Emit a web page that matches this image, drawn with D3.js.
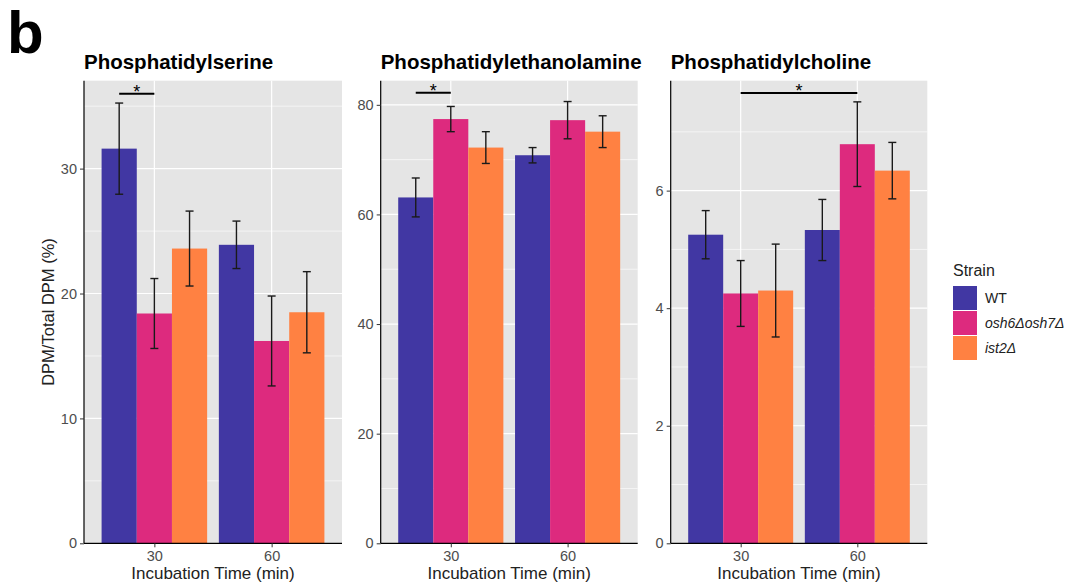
<!DOCTYPE html>
<html>
<head>
<meta charset="utf-8">
<script src="https://cdn.jsdelivr.net/npm/d3@7"></script>
<style>
  body { margin: 0; background: #fff; }
  svg { font-family: "Liberation Sans", Arial, sans-serif; display: block; }
</style>
</head>
<body>
<div id="chart"></div>
<script>
// Données
const times = ["30", "60"];
const strains = ["WT", "osh6Δosh7Δ", "ist2Δ"];
const strainColors = ["#4137a3", "#dd2a7e", "#ff8142"];
const lipids = ["Phosphatidylserine", "Phosphatidylethanolamine", "Phosphatidylcholine"];

// moyennes [temps][souche]
const psMean = [[31.6, 18.4, 23.6], [23.9, 16.2, 18.5]];
const psErr  = [[3.65, 2.8, 3.0], [1.9, 3.6, 3.25]];
const peMean = [[63.1, 77.4, 72.2], [70.8, 77.2, 75.1]];
const peErr  = [[3.55, 2.3, 2.9], [1.4, 3.4, 2.9]];
const pcMean = [[5.25, 4.25, 4.30], [5.33, 6.79, 6.34]];
const pcErr  = [[0.41, 0.56, 0.79], [0.52, 0.72, 0.48]];

const yMax = [37.04, 84.4, 7.87];
const yTicks = [[0, 10, 20, 30], [0, 20, 40, 60, 80], [0, 2, 4, 6]];
const yMinor = [[5, 15, 25, 35], [10, 30, 50, 70], [1, 3, 5, 7]];

// barres de significativité : [temps, souche] -> [temps, souche], hauteur
const sigBars = [
    { from: ["30", "WT"], to: ["30", "osh6Δosh7Δ"], y: 36.0 },
    { from: ["30", "WT"], to: ["30", "osh6Δosh7Δ"], y: 82.2 },
    { from: ["30", "osh6Δosh7Δ"], to: ["60", "osh6Δosh7Δ"], y: 7.66 }
];

const means = [psMean, peMean, pcMean];
const errs = [psErr, peErr, pcErr];

(function() {
    const W = 1067, H = 586;
    const svg = d3.select("#chart").append("svg").attr("width", W).attr("height", H);

    // lettre du panneau
    svg.append("text").attr("x", 7).attr("y", 53)
        .style("font-size", "60px").style("font-weight", "bold").text("b");

    const panels = [
        { x0: 84, x1: 342 },
        { x0: 380.7, x1: 637.7 },
        { x0: 670.7, x1: 927.3 }
    ];
    const plotTop = 80.7, plotBottom = 543.3;

    panels.forEach((p, i) => {
        const g = svg.append("g");

        const x = d3.scalePoint().domain(times).range([p.x0, p.x1]).padding(0.6);
        const step = x.step();
        const xs = d3.scaleBand().domain(strains).range([-0.45 * step, 0.45 * step]);
        const y = d3.scaleLinear().domain([0, yMax[i]]).range([plotBottom, plotTop]);
        const color = d3.scaleOrdinal().domain(strains).range(strainColors);

        // fond
        g.append("rect").attr("x", p.x0).attr("y", plotTop)
            .attr("width", p.x1 - p.x0).attr("height", plotBottom - plotTop).attr("fill", "#e5e5e5");

        // grille
        g.selectAll(".minor").data(yMinor[i]).join("line")
            .attr("x1", p.x0).attr("x2", p.x1)
            .attr("y1", d => y(d)).attr("y2", d => y(d))
            .attr("stroke", "#fff").attr("stroke-width", 0.6);
        g.selectAll(".major").data(yTicks[i]).join("line")
            .attr("x1", p.x0).attr("x2", p.x1)
            .attr("y1", d => y(d)).attr("y2", d => y(d))
            .attr("stroke", "#fff").attr("stroke-width", 1.2);
        g.selectAll(".vmajor").data(times).join("line")
            .attr("x1", d => x(d)).attr("x2", d => x(d))
            .attr("y1", plotTop).attr("y2", plotBottom)
            .attr("stroke", "#fff").attr("stroke-width", 1.2);

        // barres
        const rows = [];
        times.forEach((t, ti) => strains.forEach((s, si) => {
            rows.push({ t, s, v: means[i][ti][si], e: errs[i][ti][si] });
        }));

        g.selectAll(".bar").data(rows).join("rect")
            .attr("x", d => x(d.t) + xs(d.s))
            .attr("width", xs.bandwidth())
            .attr("y", d => y(d.v))
            .attr("height", d => y(0) - y(d.v))
            .attr("fill", d => color(d.s));

        // barres d'erreur
        const cap = 4;
        const cx = d => x(d.t) + xs(d.s) + xs.bandwidth() / 2;
        const eb = g.selectAll(".err").data(rows).join("g")
            .attr("stroke", "#1a1a1a").attr("stroke-width", 1.4);
        eb.append("line")
            .attr("x1", cx).attr("x2", cx)
            .attr("y1", d => y(d.v + d.e)).attr("y2", d => y(d.v - d.e));
        eb.append("line")
            .attr("x1", d => cx(d) - cap).attr("x2", d => cx(d) + cap)
            .attr("y1", d => y(d.v + d.e)).attr("y2", d => y(d.v + d.e));
        eb.append("line")
            .attr("x1", d => cx(d) - cap).attr("x2", d => cx(d) + cap)
            .attr("y1", d => y(d.v - d.e)).attr("y2", d => y(d.v - d.e));

        // significativité
        const sb = sigBars[i];
        const sx0 = x(sb.from[0]) + xs(sb.from[1]) + xs.bandwidth() / 2;
        const sx1 = x(sb.to[0]) + xs(sb.to[1]) + xs.bandwidth() / 2;
        g.append("line").attr("x1", sx0).attr("x2", sx1)
            .attr("y1", y(sb.y)).attr("y2", y(sb.y))
            .attr("stroke", "#000").attr("stroke-width", 2);
        g.append("text").attr("x", (sx0 + sx1) / 2).attr("y", y(sb.y) + 4)
            .attr("text-anchor", "middle").style("font-size", "18px").text("*");

        // axes
        const ya = g.append("g").attr("transform", `translate(${p.x0},0)`)
            .call(d3.axisLeft(y).tickValues(yTicks[i]).tickSize(4).tickPadding(3));
        ya.select(".domain").attr("d", `M0,${plotTop}V${plotBottom}`).attr("stroke", "#000").attr("stroke-width", 1.2);
        ya.selectAll(".tick line").attr("stroke", "#333");
        ya.selectAll(".tick text").style("font-size", "14.5px").attr("fill", "#4d4d4d")
            .style("font-family", "Liberation Sans, Arial, sans-serif");

        const xa = g.append("g").attr("transform", `translate(0,${plotBottom})`)
            .call(d3.axisBottom(x).tickSize(4).tickPadding(3));
        xa.select(".domain").attr("d", `M${p.x0},0H${p.x1}`).attr("stroke", "#000").attr("stroke-width", 1.2);
        xa.selectAll(".tick line").attr("stroke", "#333");
        xa.selectAll(".tick text").style("font-size", "14.5px").attr("fill", "#4d4d4d")
            .style("font-family", "Liberation Sans, Arial, sans-serif");

        // titres
        g.append("text").attr("x", p.x0).attr("y", 69)
            .style("font-size", "20.5px").style("font-weight", "bold").text(lipids[i]);
        g.append("text").attr("x", (p.x0 + p.x1) / 2).attr("y", 579)
            .attr("text-anchor", "middle").style("font-size", "17px").attr("fill", "#222")
            .text("Incubation Time (min)");
    });

    // titre de l'axe y
    svg.append("text")
        .attr("transform", `translate(54,${(plotTop + plotBottom) / 2}) rotate(-90)`)
        .attr("text-anchor", "middle").style("font-size", "16.5px").attr("fill", "#222")
        .text("DPM/Total DPM (%)");

    // légende
    const legend = svg.append("g").attr("transform", "translate(953,0)");
    legend.append("text").attr("x", 0).attr("y", 276).style("font-size", "16px").attr("fill", "#222").text("Strain");
    strains.forEach((s, k) => {
        legend.append("rect").attr("x", 0).attr("y", 286 + k * 25)
            .attr("width", 24).attr("height", 24).attr("fill", strainColors[k]);
        legend.append("text").attr("x", 32).attr("y", 303 + k * 25)
            .style("font-size", "14px").attr("fill", "#222")
            .style("font-style", k === 0 ? "normal" : "italic")
            .text(s);
    });
})();
</script>
</body>
</html>
